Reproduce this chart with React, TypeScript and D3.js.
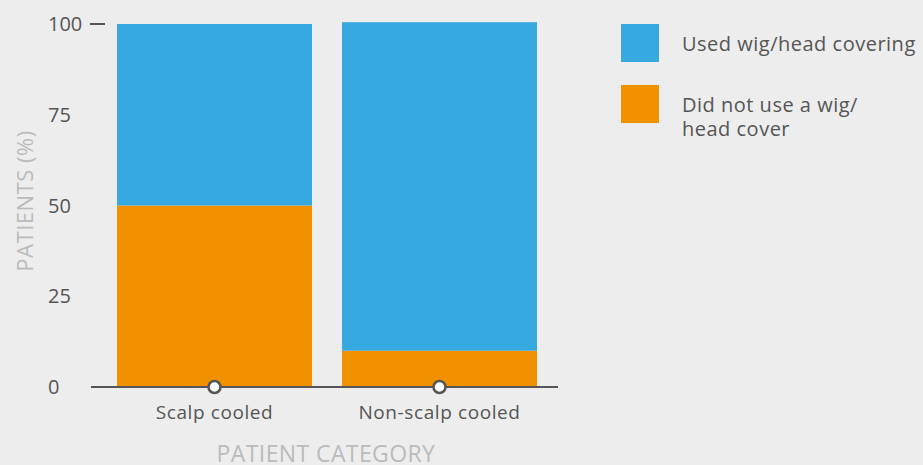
import React from "react";
import * as d3 from "d3";

const categories = ["Scalp cooled", "Non-scalp cooled"];
const usedWig = [50, 90.5];
const noWig = [50, 10];
const yTicks = [0, 25, 50, 75, 100];
const seriesNames = ["Used wig/head covering", "Did not use a wig/|head cover"];
const colors = ["#36a9e1", "#f29100"];

const W = 923, H = 465;
const plot = { left: 91, right: 558, top: 24, bottom: 387 };

export default function App() {
  const xb = d3.scaleBand<string>().domain(categories).range([117, 537]).paddingInner(30 / 225).paddingOuter(0);
  const y = d3.scaleLinear().domain([0, 100]).range([plot.bottom, plot.top]);
  const font = "'Open Sans', sans-serif";
  const stackData = categories.map((c, i) => ({ cat: c, no: noWig[i], used: usedWig[i] }));
  const stack = d3.stack<any>().keys(["no", "used"])(stackData);
  const colorFor: Record<string, string> = { no: colors[1], used: colors[0] };
  return (
    <svg width={W} height={H} style={{ position: "fixed", left: 0, top: 0, background: "#ededed" }} fontFamily={font}>
      <rect width={W} height={H} fill="#ededed" />
      {stack.map((s) =>
        s.map((d, i) => (
          <rect key={s.key + i} x={xb(d.data.cat)} width={xb.bandwidth()} y={y(d[1])} height={y(d[0]) - y(d[1])} fill={colorFor[s.key]} />
        ))
      )}
      <line x1={plot.left} x2={plot.right} y1={y(0)} y2={y(0)} stroke="#555" strokeWidth={2} />
      <line x1={90} x2={105} y1={y(100)} y2={y(100)} stroke="#555" strokeWidth={2} />
      {yTicks.map((t) => (
        <text key={t} x={48} y={y(t) + 7} fontSize={20} fill="#555">{t}</text>
      ))}
      {categories.map((c) => {
        const cx = (xb(c) as number) + xb.bandwidth() / 2;
        return (
          <g key={c}>
            <circle cx={cx} cy={y(0)} r={6} fill="#fff" stroke="#555" strokeWidth={2.5} />
            <text x={cx} y={419} textAnchor="middle" fontSize={19} letterSpacing={0.6} fill="#555">{c}</text>
          </g>
        );
      })}
      <text x={326} y={462} textAnchor="middle" fontSize={23} letterSpacing={0.4} fill="#bbb">PATIENT CATEGORY</text>
      <text transform={`translate(33,201) rotate(-90)`} textAnchor="middle" fontSize={22} letterSpacing={0.5} fill="#bbb">PATIENTS (%)</text>
      {seriesNames.map((n, i) => {
        const top = 24 + i * 61;
        const lines = n.split("|");
        return (
          <g key={n}>
            <rect x={621} y={top} width={38} height={38} fill={colors[i]} />
            {lines.map((l, j) => (
              <text key={j} x={682} y={top + 27 + j * 24} fontSize={20} letterSpacing={0.5} fill="#555">{l}</text>
            ))}
          </g>
        );
      })}
    </svg>
  );
}
